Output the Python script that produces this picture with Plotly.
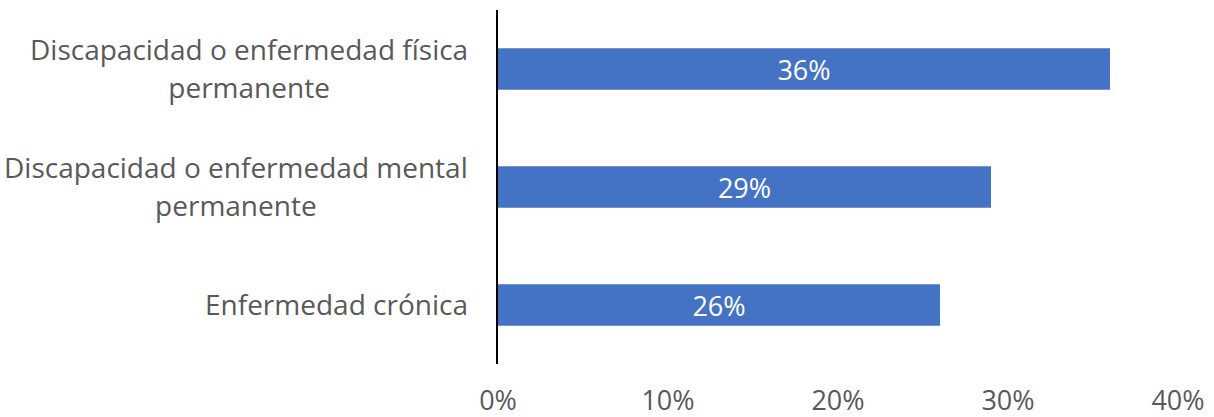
import plotly.graph_objects as go

# Categories (top to bottom) and their shares
categories = [
    "Discapacidad o enfermedad física permanente",
    "Discapacidad o enfermedad mental permanente",
    "Enfermedad crónica",
]
label_lines = [
    ["Discapacidad o enfermedad física", "permanente"],
    ["Discapacidad o enfermedad mental", "permanente"],
    ["Enfermedad crónica"],
]
values = [0.36, 0.29, 0.26]
tick_values = [0, 0.1, 0.2, 0.3, 0.4]
tick_labels = ["0%", "10%", "20%", "30%", "40%"]

BAR_COLOR = "#4472C4"
TEXT_COLOR = "#595959"
FONT = "Open Sans, DejaVu Sans, sans-serif"

fig = go.Figure(
    go.Bar(
        y=categories,
        x=values,
        orientation="h",
        marker=dict(color=BAR_COLOR, line=dict(width=0)),
        text=[f"{v:.0%}" for v in values],
        textposition="inside",
        insidetextanchor="middle",
        constraintext="none",
        textfont=dict(family=FONT, size=27, color="white"),
        hoverinfo="skip",
    )
)

# Category labels: centred lines, block right-aligned next to the axis.
# The outer font size sets the line spacing, the span sets the glyph size.
for cat, lines in zip(categories, label_lines):
    txt = "<br>".join(f"<span style='font-size:28px'>{ln}</span>" for ln in lines)
    fig.add_annotation(
        x=0, y=cat, xref="x", yref="y",
        text=txt, showarrow=False,
        xanchor="right", yanchor="middle", align="center",
        xshift=-28, yshift=1,
        font=dict(family=FONT, size=29, color=TEXT_COLOR),
    )

fig.update_layout(
    width=1214,
    height=417,
    margin=dict(l=498, r=36, t=10, b=53, autoexpand=False),
    paper_bgcolor="white",
    plot_bgcolor="white",
    bargap=0.648,
    showlegend=False,
    font=dict(family=FONT, color=TEXT_COLOR),
)
fig.update_xaxes(
    range=[0, 0.4],
    tickvals=tick_values,
    ticktext=tick_labels,
    showgrid=False,
    zeroline=False,
    showline=False,
    ticks="",
    automargin=False,
    ticklabelstandoff=18,
    tickfont=dict(family=FONT, size=27, color=TEXT_COLOR),
)
fig.update_yaxes(
    categoryorder="array",
    categoryarray=categories[::-1],
    showticklabels=False,
    showgrid=False,
    zeroline=False,
    showline=True,
    linecolor="black",
    linewidth=2,
    ticks="",
    automargin=False,
)

fig.write_html("out.html")
